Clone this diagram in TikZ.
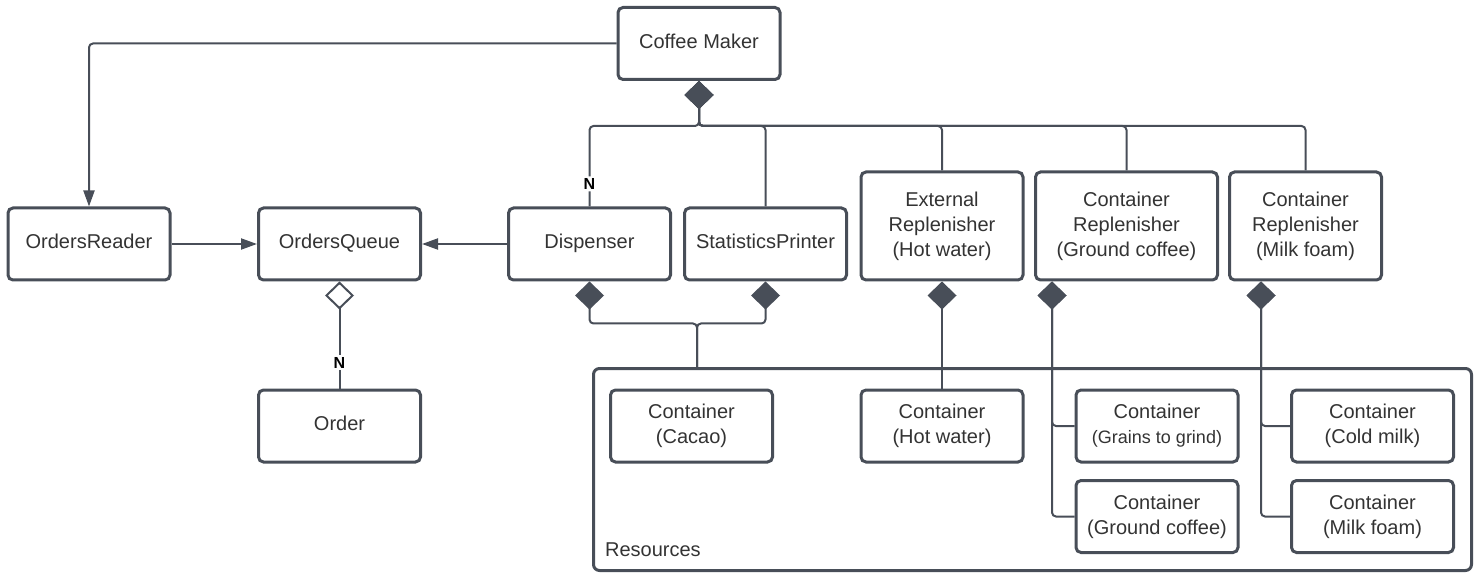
\documentclass[tikz,border=0pt]{standalone}
\usepackage{fontspec}
\setmainfont{Liberation Sans}
\usetikzlibrary{arrows.meta}
\definecolor{umlline}{RGB}{72,78,88}
\definecolor{umltext}{RGB}{51,51,51}

\begin{document}
\begin{tikzpicture}[x=0.5pt, y=-0.5pt,
		cls/.style={draw=umlline, line width=1.5pt, rounded corners=2.5pt, fill=white, text=umltext,
			align=center, font=\fontsize{10}{12.5}\selectfont, inner sep=0pt,
			minimum width=81pt, minimum height=36pt},
		oneline/.style={cls, text depth=2.5pt},
		assoc/.style={draw=umlline, line width=1pt, rounded corners=2pt, -{Triangle[length=8pt,width=5.5pt]}},
		comp/.style={draw=umlline, line width=1pt, rounded corners=2pt, arrows={Diamond[length=14pt,width=14.5pt]-}},
		aggr/.style={draw=umlline, line width=1pt, arrows={Diamond[open,fill=white,length=14pt,width=14.5pt]-}},
		mult/.style={fill=white, inner sep=1pt, text=black, font=\fontsize{8}{8}\selectfont\bfseries}]
		\useasboundingbox (0,0) rectangle (1478,577);
		
		% resources frame
		\node[draw=umlline, line width=1.5pt, rounded corners=3pt, minimum width=439pt, minimum height=101pt] (res) at (1032.5,469.5) {};
		\node[anchor=west, text=umltext, font=\fontsize{10}{12}\selectfont] (resLbl) at (598,550) {Resources};
		\coordinate (resIn) at (697,367);
		
		\node[oneline] (maker) at (699,43.5) {Coffee Maker};
		\node[oneline] (reader) at (89,244) {OrdersReader};
		\node[oneline] (queue) at (339.5,244) {OrdersQueue};
		\node[oneline] (order) at (339.5,426) {Order};
		\node[oneline] (disp) at (589.5,244) {Dispenser};
		\node[oneline] (stats) at (765.5,244) {StatisticsPrinter};
		\node[cls, minimum height=54pt] (extrep) at (942,226) {External\\Replenisher\\(Hot water)};
		\node[cls, minimum width=91pt, minimum height=54pt] (conrep) at (1126.5,226) {Container\\Replenisher\\(Ground coffee)};
		\node[cls, minimum width=76pt, minimum height=54pt] (milkrep) at (1305.5,226) {Container\\Replenisher\\(Milk foam)};
		
		\node[cls] (cacao) at (691.5,426) {Container\\(Cacao)};
		\node[cls] (water) at (942,426) {Container\\(Hot water)};
		\node[cls] (grains) at (1157,426) {Container\\\fontsize{9}{12.5}\selectfont(Grains to grind)};
		\node[cls] (ground) at (1157,516.5) {Container\\(Ground coffee)};
		\node[cls] (cold) at (1372.5,426) {Container\\(Cold milk)};
		\node[cls] (foam) at (1372.5,516.5) {Container\\(Milk foam)};
		
		% orders
		\draw[assoc] (maker.west) -| (reader.north);
		\draw[assoc] (reader.east) -- (queue.west);
		\draw[assoc] (disp.west) -- (queue.east);
		\draw[aggr] (queue.south) -- node[mult, pos=0.76] (nOrder) {N} (order.north);
		
		% coffee maker parts
		\draw[comp] (maker.south) -- ++(0,45) -| node[mult, pos=0.86] (nDisp) {N} (disp.north);
		\foreach \t in {stats,extrep,conrep,milkrep}
		\draw[comp] (maker.south) -- ++(0,45) -| (\t.north);
		
		% resources
		\draw[comp] (disp.south) -- ++(0,42) -| (resIn);
		\draw[comp] (stats.south) -- ++(0,42) -| (resIn);
		\draw[comp] (extrep.south) -- (water.north);
		\foreach \t in {grains,ground}
		\draw[comp] ([xshift=9pt]conrep.south west) |- (\t.west);
		\foreach \t in {cold,foam}
		\draw[comp] ([xshift=16.5pt]milkrep.south west) |- (\t.west);
	\end{tikzpicture}
\end{document}
